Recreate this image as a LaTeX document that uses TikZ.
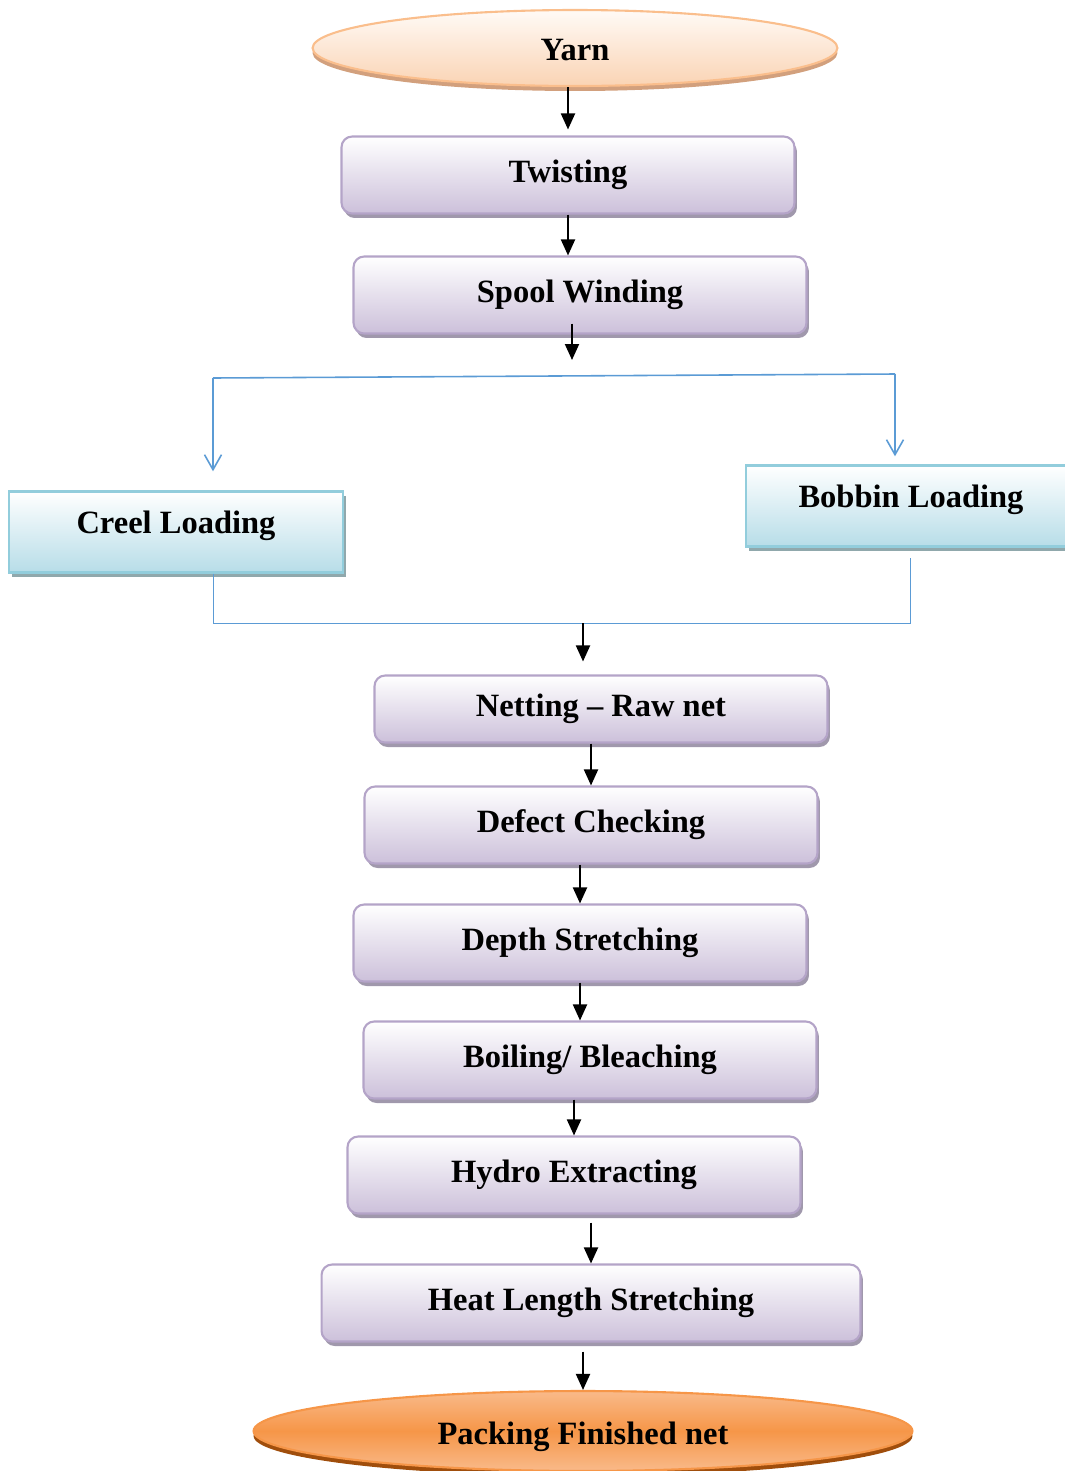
\documentclass[tikz,border=0pt]{standalone}
\usepackage{fontspec}
\setmainfont{Liberation Serif}
\usetikzlibrary{shapes.geometric, arrows.meta, positioning, calc, shadows}
\definecolor{peachtop}{RGB}{255, 250, 246}
\definecolor{peachbot}{RGB}{250, 212, 180}
\definecolor{peachedge}{RGB}{250, 190, 140}
\definecolor{peachshadow}{RGB}{210, 160, 125}
\definecolor{packlight}{RGB}{249, 186, 138}
\definecolor{packorange}{RGB}{246, 150, 72}
\definecolor{packshadow}{RGB}{160, 78, 12}
\definecolor{lavender}{RGB}{204, 192, 218}
\definecolor{lavedge}{RGB}{180, 164, 200}
\definecolor{lavshadow}{RGB}{160, 152, 172}
\definecolor{icebot}{RGB}{183, 221, 232}
\definecolor{iceedge}{RGB}{146, 205, 220}
\definecolor{iceshadow}{RGB}{144, 168, 172}
\definecolor{flowblue}{RGB}{91, 155, 213}

\begin{document}
\begin{tikzpicture}[
    x=0.02cm, y=-0.02cm,
    stepbox/.style={rectangle, rounded corners=6pt, draw=lavedge, line width=1.2pt, top color=white, bottom color=lavender, minimum width=9.06cm, minimum height=1.54cm, inner sep=0pt, font=\fontsize{18.5}{20}\selectfont\bfseries, text height=12.5pt, text depth=4pt, drop shadow={shadow xshift=0.05cm, shadow yshift=-0.09cm, fill=lavshadow, opacity=1}},
    loadbox/.style={rectangle, draw=iceedge, line width=1.4pt, top color=white, bottom color=icebot, minimum height=1.62cm, inner sep=0pt, font=\fontsize{18.5}{20}\selectfont\bfseries, text height=12.5pt, text depth=0.38cm, drop shadow={shadow xshift=0.06cm, shadow yshift=-0.08cm, fill=iceshadow, opacity=1}},
    endnode/.style={ellipse, inner sep=0pt, line width=1.2pt, font=\fontsize{18.5}{20}\selectfont\bfseries, text depth=4pt},
    arr/.style={-{Triangle[length=0.32cm, width=0.28cm]}, line width=1.1pt, black},
    split/.style={flowblue, line width=0.9pt},
    merge/.style={flowblue, line width=0.5pt}
]
    \clip (0,0) rectangle (1065,1471);

    % Yarn
    \node[endnode, text height=18pt, draw=peachedge, top color=peachtop, bottom color=peachbot, minimum width=10.5cm, minimum height=1.52cm, drop shadow={shadow xshift=0cm, shadow yshift=-0.1cm, fill=peachshadow, opacity=1}] (yarn) at (575,48) {Yarn};

    % Main steps
    \node[stepbox] (twist) at (568,175) {Twisting};
    \node[stepbox] (spool) at (580,295) {Spool Winding};
    \draw[arr, shorten >=0.12cm] (twist.north |- yarn.south) -- (twist.north);
    \draw[arr] (twist.south) -- (twist.south |- spool.north);

    % Split to creel / bobbin
    \coordinate (spoolend) at (572,360);
    \coordinate (splitL) at (213,378);
    \coordinate (splitR) at (895,374);
    \draw[arr, shorten <=-0.22cm] (spoolend |- spool.south) -- (spoolend);
    \node[loadbox, minimum width=6.68cm] (creel) at (176,532) {Creel Loading};
    \node[loadbox, minimum width=6.6cm] (bobbin) at (911,506) {Bobbin Loading};
    \draw[split] (splitL) -- (splitR);
    \draw[split, -{Straight Barb[length=0.3cm, width=0.34cm]}, shorten >=0.38cm] (splitL) -- (splitL |- creel.north);
    \draw[split, -{Straight Barb[length=0.3cm, width=0.34cm]}, shorten >=0.16cm] (splitR) -- (splitR |- bobbin.north);

    % Merge back
    \coordinate (mergeL) at (213,623);
    \coordinate (mergeR) at (910,623);
    \coordinate (join) at (583,623);
    \draw[merge] (mergeL |- creel.south) -- (mergeL) -- (mergeR) -- ([yshift=-0.2cm]mergeR |- bobbin.south);

    % Netting and after
    \node[stepbox, minimum height=1.34cm] (net) at (601,709) {Netting – Raw net};
    \node[stepbox] (defect) at (591,825) {Defect Checking};
    \node[stepbox] (depth) at (580,943) {Depth Stretching};
    \node[stepbox] (boil) at (590,1060) {Boiling/ Bleaching};
    \node[stepbox] (hydro) at (574,1175) {Hydro Extracting};
    \node[stepbox, minimum width=10.78cm] (heat) at (591,1303) {Heat Length Stretching};

    \draw[arr, shorten >=0.26cm] (join) -- (join |- net.north);
    \draw[arr] (defect.north |- net.south) -- (defect.north);
    \draw[arr] (depth.north |- defect.south) -- (depth.north);
    \draw[arr] (depth.south) -- (depth.south |- boil.north);
    \draw[arr] (hydro.north |- boil.south) -- (hydro.north);
    \draw[arr, shorten <=0.16cm] (heat.north |- hydro.south) -- (heat.north);

    % Packing
    \node[endnode, text height=19pt, draw=packorange, top color=packlight, bottom color=packlight, middle color=packorange, minimum width=13.18cm, minimum height=1.6cm, drop shadow={shadow xshift=0cm, shadow yshift=-0.1cm, fill=packshadow, opacity=1}] (pack) at (583,1431) {Packing Finished net};
    \draw[arr, shorten <=0.18cm] (pack.north |- heat.south) -- (pack.north);
\end{tikzpicture}
\end{document}
